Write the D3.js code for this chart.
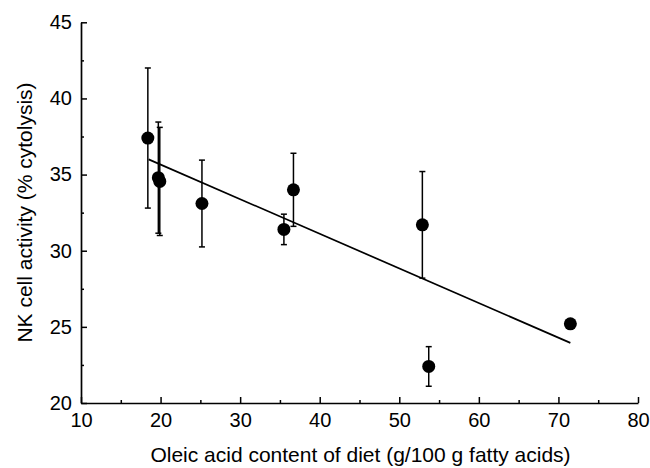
<!DOCTYPE html>
<html>
<head>
<meta charset="utf-8">
<script src="https://cdn.jsdelivr.net/npm/d3@7"></script>
<style>
  html, body { margin: 0; padding: 0; background: #fff; }
  svg { display: block; }
  text { font-family: "Liberation Sans", Arial, Helvetica, sans-serif; fill: #000; }
</style>
</head>
<body>
<svg id="chart" width="650" height="468"></svg>
<script>
// ---- data ----
const oleic    = [18.4, 19.72, 19.9, 25.2, 35.5, 36.7, 52.9, 53.7, 71.5];
const nkActive = [37.4, 34.8, 34.55, 33.1, 31.4, 34.0, 31.7, 22.4, 25.2];
const nkError  = [4.6, 3.65, 3.55, 2.85, 1.0, 2.4, 3.5, 1.3, 0];
const fitX     = [18.5, 71.5];
const fitY     = [36.0, 23.95];
const xTicks      = [10, 20, 30, 40, 50, 60, 70, 80];
const xMinorTicks = [15, 25, 35, 45, 55, 65, 75];
const yTicks      = [20, 25, 30, 35, 40, 45];
const yMinorTicks = [22.5, 27.5, 32.5, 37.5, 42.5];
const xTitle = "Oleic acid content of diet (g/100 g fatty acids)";
const yTitle = "NK cell activity (% cytolysis)";

const svg = d3.select("#chart");
const x = d3.scaleLinear().domain([10, 80]).range([81, 638]);
const y = d3.scaleLinear().domain([20, 45]).range([403, 22.3]);

// axes
svg.append("g").attr("transform", `translate(0,${y(20)})`)
  .call(d3.axisBottom(x).tickValues(xTicks).tickSizeInner(-6).tickSizeOuter(0).tickPadding(10));
svg.append("g").attr("transform", `translate(0,${y(20)})`)
  .call(d3.axisBottom(x).tickValues(xMinorTicks).tickSizeInner(-3).tickSizeOuter(0).tickFormat(""))
  .select(".domain").remove();
svg.append("g").attr("transform", `translate(${x(10)},0)`)
  .call(d3.axisLeft(y).tickValues(yTicks).tickSizeInner(-6).tickSizeOuter(0).tickPadding(9));
svg.append("g").attr("transform", `translate(${x(10)},0)`)
  .call(d3.axisLeft(y).tickValues(yMinorTicks).tickSizeInner(-3).tickSizeOuter(0).tickFormat(""))
  .select(".domain").remove();

svg.selectAll(".domain").attr("stroke", "#000").attr("stroke-width", 1.7);
svg.selectAll(".tick line").attr("stroke", "#000").attr("stroke-width", 1.5);
svg.selectAll(".tick text").attr("font-size", 20).attr("font-family", "'Liberation Sans', Arial, Helvetica, sans-serif").attr("fill", "#000");

// regression line
svg.append("line")
  .attr("x1", x(fitX[0])).attr("y1", y(fitY[0]))
  .attr("x2", x(fitX[1])).attr("y2", y(fitY[1]))
  .attr("stroke", "#000").attr("stroke-width", 1.7);

// error bars
const pts = oleic.map((v, i) => ({ x: v, y: nkActive[i], e: nkError[i] }));
const eb = svg.append("g").selectAll("g").data(pts.filter(d => d.e > 0)).join("g")
  .attr("stroke", "#000").attr("stroke-width", 1.5);
eb.append("line")
  .attr("x1", d => x(d.x)).attr("x2", d => x(d.x))
  .attr("y1", d => y(d.y - d.e)).attr("y2", d => y(d.y + d.e));
eb.append("line")
  .attr("x1", d => x(d.x) - 3).attr("x2", d => x(d.x) + 3)
  .attr("y1", d => y(d.y + d.e)).attr("y2", d => y(d.y + d.e));
eb.append("line")
  .attr("x1", d => x(d.x) - 3).attr("x2", d => x(d.x) + 3)
  .attr("y1", d => y(d.y - d.e)).attr("y2", d => y(d.y - d.e));

// points
svg.append("g").selectAll("circle").data(pts).join("circle")
  .attr("cx", d => x(d.x)).attr("cy", d => y(d.y)).attr("r", 6.5).attr("fill", "#000");

// titles
svg.append("text").attr("x", 360.5).attr("y", 462)
  .attr("text-anchor", "middle").attr("font-size", 21).text(xTitle);
svg.append("text").attr("transform", `translate(31.5,212.5) rotate(-90)`)
  .attr("text-anchor", "middle").attr("font-size", 21).text(yTitle);
</script>
</body>
</html>
